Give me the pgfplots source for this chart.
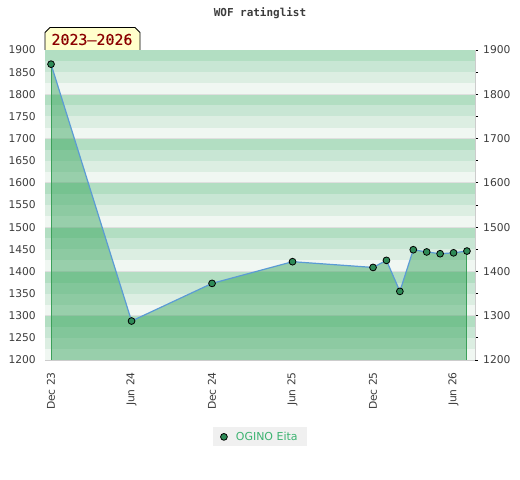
\documentclass[border=0pt]{standalone}
\usepackage{pgfplots}
\pgfplotsset{compat=1.18}
\usepackage{fontspec}
\setmainfont{DejaVu Sans}
\setmonofont{DejaVu Sans Mono}
\definecolor{bA}{RGB}{178,222,194}
\definecolor{bB}{RGB}{200,230,212}
\definecolor{bC}{RGB}{220,238,226}
\definecolor{bD}{RGB}{240,247,242}
\definecolor{fillg}{RGB}{45,160,85}
\definecolor{edgeg}{RGB}{60,160,90}
\definecolor{lineb}{RGB}{91,155,213}
\definecolor{markg}{RGB}{46,139,87}
\definecolor{legg}{RGB}{60,179,113}
\definecolor{leggray}{RGB}{240,240,240}
\definecolor{txt}{RGB}{60,60,60}
\definecolor{bordergray}{RGB}{204,204,204}
\definecolor{darkred}{RGB}{139,0,0}
\definecolor{boxyellow}{RGB}{255,255,204}
\newcommand\bandset[5]{%
 \fill[bA] (axis cs:-1,#4) rectangle (axis cs:40,#5);
 \fill[bB] (axis cs:-1,#3) rectangle (axis cs:40,#4);
 \fill[bC] (axis cs:-1,#2) rectangle (axis cs:40,#3);
 \fill[bD] (axis cs:-1,#1) rectangle (axis cs:40,#2);
 \draw[gray!25, line width=0.8bp] (axis cs:-1,#1) -- (axis cs:40,#1);}
\begin{document}
\begin{tikzpicture}
\useasboundingbox (0,0) rectangle (520bp,480bp);
\begin{axis}[
  at={(45bp,120bp)}, anchor=south west,
  scale only axis, width=430bp, height=310bp,
  xmin=-0.45, xmax=31.6, ymin=1200, ymax=1900,
  axis line style={draw=bordergray},
  tick style={draw=none},
  ytick={1200,1250,...,1900},
  xtick={0,6,12,18,24,30},
  xticklabels={Dec 23,Jun 24,Dec 24,Jun 25,Dec 25,Jun 26},
  /pgf/number format/1000 sep={},
  /pgf/number format/assume math mode=true,
  ticklabel style={font=\fontsize{10.75}{12}\selectfont, text=txt},
  yticklabel style={inner sep=0pt, anchor=east},
  yticklabel shift=9bp,
  xticklabel style={rotate=90, anchor=east, inner sep=0pt},
  xticklabel shift=12bp,
  legend style={at={(0.5,-0.248)}, anchor=center, fill=leggray, draw=none,
    font=\fontsize{11}{12}\selectfont, text=legg, inner xsep=7bp, inner ysep=2.5bp,
    legend cell align=left},
  legend image code/.code={\draw[#1] plot coordinates {(0bp,0bp)}; \path[draw=none,fill=none] (-3.5bp,0bp) rectangle (10bp,0.1bp);},
]
\bandset{1200}{1225}{1250}{1275}{1300}
\bandset{1300}{1325}{1350}{1375}{1400}
\bandset{1400}{1425}{1450}{1475}{1500}
\bandset{1500}{1525}{1550}{1575}{1600}
\bandset{1600}{1625}{1650}{1675}{1700}
\bandset{1700}{1725}{1750}{1775}{1800}
\bandset{1800}{1825}{1850}{1875}{1900}
\addplot[draw=none, fill=fillg, fill opacity=0.45, forget plot] coordinates {
 (0,1200) (0,1868) (6,1288) (12,1373) (18,1422) (24,1409) (25,1425) (26,1355)
 (27,1449) (28,1444) (29,1440) (30,1442) (31,1446) (31,1200)} -- cycle;
\addplot[edgeg, line width=1bp, forget plot] coordinates {(0,1200) (0,1868)};
\addplot[edgeg, line width=1bp, forget plot] coordinates {(31,1200) (31,1446)};
\addplot[lineb, line width=1.2bp, mark=*, mark size=3.4bp,
  mark options={fill=markg, draw=black, line width=0.8bp}, forget plot] coordinates {
 (0,1868) (6,1288) (12,1373) (18,1422) (24,1409) (25,1425) (26,1355)
 (27,1449) (28,1444) (29,1440) (30,1442) (31,1446)};
\addlegendimage{only marks, draw=none, mark=*, mark size=3.4bp, mark options={fill=markg, draw=black, line width=0.8bp}}
\addlegendentry{OGINO Eita}
\end{axis}
\begin{axis}[
  at={(45bp,120bp)}, anchor=south west,
  scale only axis, width=430bp, height=310bp,
  xmin=-0.45, xmax=31.6, ymin=1200, ymax=1900,
  axis x line=none, axis y line*=right,
  axis line style={draw=bordergray, -},
  ytick={1200,1250,...,1900},
  yticklabels={1200,,1300,,1400,,1500,,1600,,1700,,1800,,1900},
  tick align=outside, major tick length=3bp,
  tick style={draw=black, line width=0.8bp},
  ticklabel style={font=\fontsize{10.75}{12}\selectfont, text=txt},
  yticklabel style={inner sep=0pt, anchor=west},
  yticklabel shift=5bp,
]
\addplot[draw=none] coordinates {(0,1500)};
\end{axis}
\node[font=\ttfamily\bfseries\fontsize{11}{12}\selectfont, text=txt] at (260bp,467bp) {WOF ratinglist};
\draw[fill=boxyellow, draw=black, line width=0.8bp] (45bp,430bp) -- (45bp,447.5bp) -- (50bp,452.5bp) -- (135bp,452.5bp) -- (140bp,447.5bp) -- (140bp,430bp);
\node[font=\ttfamily\fontsize{15}{16}\selectfont, text=darkred] at (92bp,440.5bp) {\addfontfeature{FakeBold=0.4}2023–2026};
\end{tikzpicture}
\end{document}
